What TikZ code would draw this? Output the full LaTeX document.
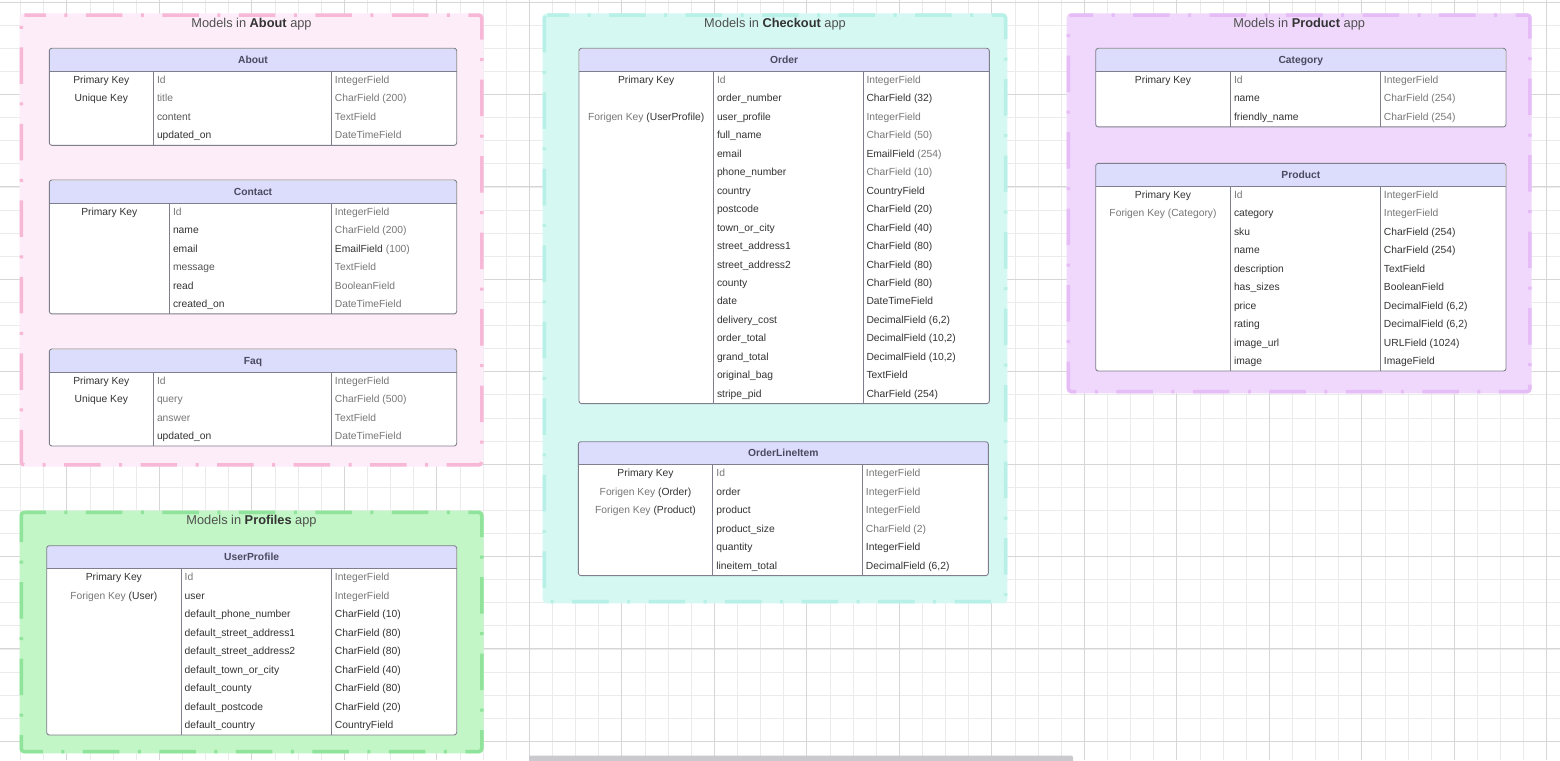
\documentclass[tikz,border=0pt]{standalone}
\usepackage{fontspec}
\setmainfont{Liberation Sans}

\definecolor{gridminor}{HTML}{EBEBEB}
\definecolor{gridmajor}{HTML}{D6D6D6}
\definecolor{aboutfill}{HTML}{FDEDF8}
\definecolor{aboutline}{HTML}{F6B8D6}
\definecolor{proffill}{HTML}{C2F6C6}
\definecolor{profline}{HTML}{8FE39B}
\definecolor{chkfill}{HTML}{D5F8F2}
\definecolor{chkline}{HTML}{B6F0E7}
\definecolor{prodfill}{HTML}{F0D8FC}
\definecolor{prodline}{HTML}{E5BCF6}
\definecolor{hdrfill}{HTML}{DCDCFC}
\definecolor{tblline}{HTML}{7E7E8C}
\definecolor{txtdk}{HTML}{333333}
\definecolor{txtmd}{HTML}{555555}
\definecolor{txtlt}{HTML}{777777}
\definecolor{hdrtxt}{HTML}{4A4A60}
\definecolor{titletxt}{HTML}{505050}
\definecolor{titlebold}{HTML}{333333}
\definecolor{scrollbar}{HTML}{C9C9CE}

\newcommand\tablesize{\fontsize{10.3}{12}\selectfont}
\newcommand\lt[1]{\textcolor{txtlt}{#1}}
\newcommand\md[1]{\textcolor{txtmd}{#1}}

\tikzset{
  cell/.style={inner sep=0pt, font=\tablesize, text=txtdk},
  ccell/.style={cell, anchor=base},
  lcell/.style={cell, anchor=base west},
  hdrtext/.style={inner sep=0pt, anchor=base, font=\tablesize\bfseries, text=hdrtxt},
  apptitle/.style={inner sep=0pt, anchor=base, font=\fontsize{12.8}{15}\selectfont, text=titletxt},
  appframe/.style={line width=3.5pt, dash pattern=on 36.5pt off 18.5pt on 3pt off 18.5pt,
                   dash phase=14.8pt, rounded corners=3pt},
  tblframe/.style={draw=tblline, line width=0.9pt},
}

% app container: name, x1, y1, x2, y2 (outer edge), fill, line, app word
\newcommand\app[8]{%
  \path[fill=#6, rounded corners=4pt] (#2,#3) rectangle (#4,#5);
  \draw[appframe, draw=#7] ({#2+1.75},{#3+1.75}) -- ({#4-1.75},{#3+1.75})
     -- ({#4-1.75},{#5-1.75}) -- ({#2+1.75},{#5-1.75}) -- cycle;
  \node[apptitle] (#1-title) at ({(#2+#4)/2},{#3+14}) {Models in \textbf{\textcolor{titlebold}{#8}} app};
}

% model table: name, x1, divider a, divider b, x2, top, rows, title
\newcommand\erd[8]{%
  \gdef\Tn{#1}\gdef\Txl{#2}\gdef\Txa{#3}\gdef\Txb{#4}\gdef\Thb{(#6+23.2)}%
  \pgfmathsetmacro\Tbot{#6+23.2+#7*18.45}%
  \path[fill=white] (#2,#6) rectangle (#5,\Tbot);
  \path[fill=hdrfill] ({#2+0.6},{#6+0.6}) rectangle ({#5-0.6},{#6+23.2});
  \draw[tblframe] (#2,{#6+23.2}) -- (#5,{#6+23.2});
  \draw[tblframe] (#3,{#6+23.2}) -- (#3,\Tbot);
  \draw[tblframe] (#4,{#6+23.2}) -- (#4,\Tbot);
  \draw[tblframe, rounded corners=2.5pt] (#2,#6) rectangle (#5,\Tbot);
  \node[hdrtext] (#1-head) at ({(#2+#5)/2},{#6+15}) {#8};
}

% table row: index, key, field, type
\newcommand\rw[4]{%
  \if\relax\detokenize{#2}\relax\else
    \node[ccell] (\Tn-#1-key) at ({(\Txl+\Txa)/2},{\Thb+12+(#1-1)*18.45}) {#2};
  \fi
  \node[lcell] (\Tn-#1-field) at ({\Txa+3.5},{\Thb+12+(#1-1)*18.45}) {#3};
  \node[lcell] (\Tn-#1-type) at ({\Txb+3},{\Thb+12+(#1-1)*18.45}) {#4};
}

\begin{document}
\begin{tikzpicture}[x=1pt, y=-1pt]
\useasboundingbox (0,0) rectangle (1560,760);
\fill[white] (0,0) rectangle (1560,760);

% canvas grid
\foreach \k [evaluate=\k as \gx using -25.7+23.125*\k] in {2,...,68}
  \draw[gridminor, line width=0.8pt] (\gx,0) -- (\gx,760);
\foreach \k [evaluate=\k as \gy using 2.1+23.1*\k] in {0,...,32}
  \draw[gridminor, line width=0.8pt] (0,\gy) -- (1560,\gy);
\foreach \k [evaluate=\k as \gx using 66.8+92.5*\k] in {0,...,16}
  \draw[gridmajor, line width=0.9pt] (\gx,0) -- (\gx,760);
\foreach \k [evaluate=\k as \gy using 2.1+92.4*\k] in {0,...,8}
  \draw[gridmajor, line width=0.9pt] (0,\gy) -- (1560,\gy);

% horizontal scroll bar
\path[fill=scrollbar, rounded corners=2pt] (529,755.5) rectangle (1073,763);

% ---------------- About app ----------------
\app{aboutapp}{19.5}{13.3}{483.5}{466.7}{aboutfill}{aboutline}{About}

\erd{about}{49.3}{153.3}{331.7}{456.7}{48.3}{4}{About}
\rw{1}{Primary Key}{\lt{Id}}{\lt{IntegerField}}
\rw{2}{Unique Key}{\lt{title}}{\lt{CharField (200)}}
\rw{3}{}{\md{content}}{\lt{TextField}}
\rw{4}{}{updated\_on}{\lt{DateTimeField}}

\erd{contact}{49.3}{169.3}{331.7}{456.7}{180}{6}{Contact}
\rw{1}{Primary Key}{\lt{Id}}{\lt{IntegerField}}
\rw{2}{}{name}{\lt{CharField (200)}}
\rw{3}{}{email}{EmailField \lt{(100)}}
\rw{4}{}{\md{message}}{\lt{TextField}}
\rw{5}{}{read}{\lt{BooleanField}}
\rw{6}{}{created\_on}{\lt{DateTimeField}}

\erd{faq}{49.3}{153.3}{331.7}{456.7}{349}{4}{Faq}
\rw{1}{Primary Key}{\lt{Id}}{\lt{IntegerField}}
\rw{2}{Unique Key}{\lt{query}}{\lt{CharField (500)}}
\rw{3}{}{\lt{answer}}{\lt{TextField}}
\rw{4}{}{updated\_on}{\lt{DateTimeField}}

% ---------------- Profiles app ----------------
\app{profilesapp}{19.5}{510.7}{483.5}{753.3}{proffill}{profline}{Profiles}

\erd{userprofile}{46.7}{181}{331.7}{456.7}{545.7}{9}{UserProfile}
\rw{1}{Primary Key}{\lt{Id}}{\lt{IntegerField}}
\rw{2}{\lt{Forigen Key} (User)}{user}{\lt{IntegerField}}
\rw{3}{}{default\_phone\_number}{CharField (10)}
\rw{4}{}{default\_street\_address1}{CharField (80)}
\rw{5}{}{default\_street\_address2}{CharField (80)}
\rw{6}{}{default\_town\_or\_city}{CharField (40)}
\rw{7}{}{default\_county}{CharField (80)}
\rw{8}{}{default\_postcode}{CharField (20)}
\rw{9}{}{default\_country}{CountryField}

% ---------------- Checkout app ----------------
\app{checkoutapp}{542.7}{13.3}{1007.3}{603.3}{chkfill}{chkline}{Checkout}

\erd{order}{579}{713.3}{863.3}{989.3}{48.3}{18}{Order}
\rw{1}{Primary Key}{\lt{Id}}{\lt{IntegerField}}
\rw{2}{}{order\_number}{CharField (32)}
\rw{3}{\lt{Forigen Key} (UserProfile)}{user\_profile}{\lt{IntegerField}}
\rw{4}{}{full\_name}{\lt{CharField (50)}}
\rw{5}{}{email}{EmailField \lt{(254)}}
\rw{6}{}{phone\_number}{\lt{CharField (10)}}
\rw{7}{}{country}{CountryField}
\rw{8}{}{postcode}{CharField (20)}
\rw{9}{}{town\_or\_city}{CharField (40)}
\rw{10}{}{street\_address1}{CharField (80)}
\rw{11}{}{street\_address2}{CharField (80)}
\rw{12}{}{county}{CharField (80)}
\rw{13}{}{date}{DateTimeField}
\rw{14}{}{delivery\_cost}{DecimalField (6,2)}
\rw{15}{}{order\_total}{DecimalField (10,2)}
\rw{16}{}{grand\_total}{DecimalField (10,2)}
\rw{17}{}{original\_bag}{TextField}
\rw{18}{}{stripe\_pid}{CharField (254)}

\erd{orderlineitem}{578.3}{712.7}{862.7}{988.3}{441.7}{6}{OrderLineItem}
\rw{1}{Primary Key}{\lt{Id}}{\lt{IntegerField}}
\rw{2}{\lt{Forigen Key} (Order)}{order}{\lt{IntegerField}}
\rw{3}{\lt{Forigen Key} (Product)}{product}{\lt{IntegerField}}
\rw{4}{}{product\_size}{\lt{CharField (2)}}
\rw{5}{}{quantity}{IntegerField}
\rw{6}{}{lineitem\_total}{DecimalField (6,2)}

% ---------------- Product app ----------------
\app{productapp}{1066.7}{13.3}{1531.7}{393.3}{prodfill}{prodline}{Product}

\erd{category}{1095.7}{1230.3}{1380.7}{1506}{48.3}{3}{Category}
\rw{1}{Primary Key}{\lt{Id}}{\lt{IntegerField}}
\rw{2}{}{name}{\lt{CharField (254)}}
\rw{3}{}{friendly\_name}{\lt{CharField (254)}}

\erd{product}{1095.7}{1230.3}{1380.7}{1506}{163.3}{10}{Product}
\rw{1}{Primary Key}{\lt{Id}}{\lt{IntegerField}}
\rw{2}{\lt{Forigen Key (Category)}}{category}{\lt{IntegerField}}
\rw{3}{}{sku}{CharField (254)}
\rw{4}{}{name}{CharField (254)}
\rw{5}{}{description}{TextField}
\rw{6}{}{has\_sizes}{BooleanField}
\rw{7}{}{price}{DecimalField (6,2)}
\rw{8}{}{rating}{DecimalField (6,2)}
\rw{9}{}{image\_url}{URLField (1024)}
\rw{10}{}{image}{ImageField}

\end{tikzpicture}
\end{document}
